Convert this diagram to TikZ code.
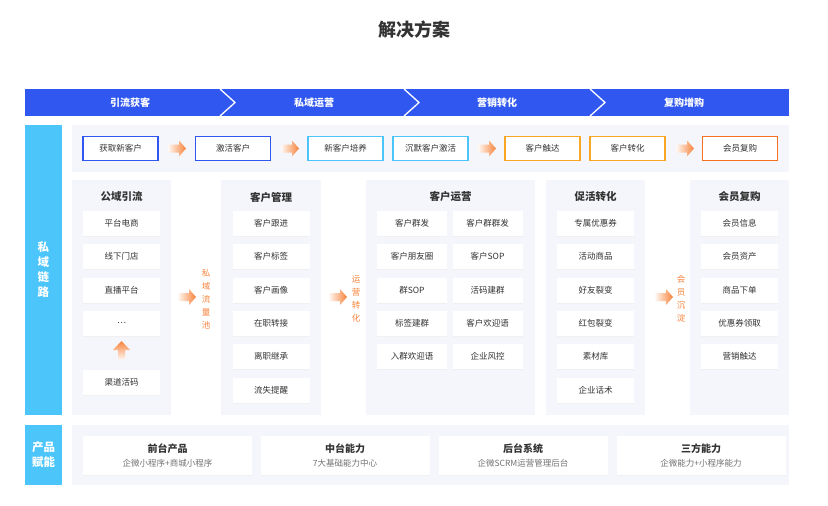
\documentclass[tikz,border=0pt]{standalone}
\usepackage{fontspec}
\setmainfont{Noto Sans CJK SC}
\usetikzlibrary{shadows}
\definecolor{bblue}{HTML}{3057F0}
\definecolor{lblue}{HTML}{4BC5FA}
\definecolor{panel}{HTML}{F4F6FB}
\definecolor{orgA}{HTML}{F8A623}
\definecolor{orgB}{HTML}{F5711F}
\definecolor{arr}{HTML}{F7833A}
\definecolor{txt}{HTML}{333333}
\tikzset{
  item/.style={fill=white,draw=none,minimum width=77pt,minimum height=25pt,inner sep=0pt,font=\fontsize{8.5}{10}\selectfont,text=txt,
     drop shadow={shadow xshift=0pt,shadow yshift=-1pt,fill=black!6,opacity=1}},
  hitem/.style={item,minimum width=70pt},
  topbox/.style={fill=white,line width=1.2pt,minimum width=75pt,minimum height=24pt,inner sep=0pt,font=\fontsize{8.5}{10}\selectfont,text=txt},
  head/.style={font=\fontsize{10.5}{12}\bfseries\selectfont,text=txt},
  side/.style={fill=lblue,draw=none,text=white,font=\fontsize{11.5}{15}\bfseries\selectfont,align=center},
  vlab/.style={text=arr,font=\fontsize{8.5}{13}\selectfont,align=center,inner sep=0pt},
  bitem/.style={fill=white,minimum width=169pt,minimum height=39pt,inner sep=0pt,drop shadow={shadow xshift=0pt,shadow yshift=-1pt,fill=black!6,opacity=1}},
}
\newcommand{\garrow}[2]{% right arrow at center
  \shade[left color=arr!5,right color=arr] ([xshift=-9pt,yshift=-4pt]#1,#2) -- ([xshift=2pt,yshift=-4pt]#1,#2) -- ([xshift=2pt,yshift=-8pt]#1,#2) -- ([xshift=9pt]#1,#2) -- ([xshift=2pt,yshift=8pt]#1,#2) -- ([xshift=2pt,yshift=4pt]#1,#2) -- ([xshift=-9pt,yshift=4pt]#1,#2) -- cycle;}
\begin{document}
\begin{tikzpicture}[x=1pt,y=-1pt]
\useasboundingbox[fill=white] (0,0) rectangle (828,506);
\node[font=\fontsize{18}{20}\bfseries\selectfont,text=txt] (title) at (414,30) {解决方案};
% banner
\fill[bblue] (25,89) rectangle (789,116);
\foreach \x in {220,404,590}{\draw[white,line width=1.3pt] (\x,89) -- (\x+15,102.5) -- (\x,116);}
\foreach \x/\t/\n in {130/引流获客/b1,314/私域运营/b2,497/营销转化/b3,684/复购增购/b4}
  \node[text=white,font=\fontsize{10}{12}\bfseries\selectfont] (\n) at (\x,102.5) {\t};
% side bars
\node[side,minimum width=37pt,minimum height=290pt,inner sep=0pt] (s1) at (43.5,270) {私\\域\\链\\路};
\node[side,minimum width=37pt,minimum height=60pt,inner sep=0pt] (s2) at (43.5,455) {产品\\赋能};
% top row
\fill[panel] (72,125) rectangle (789,172);
\node[topbox,draw=bblue] (t1) at (120.5,148.5) {获取新客户};
\node[topbox,draw=bblue] (t2) at (233,148.5) {激活客户};
\node[topbox,draw=lblue] (t3) at (345.5,148.5) {新客户培养};
\node[topbox,draw=lblue] (t4) at (430.5,148.5) {沉默客户激活};
\node[topbox,draw=orgA] (t5) at (542.5,148.5) {客户触达};
\node[topbox,draw=orgA] (t6) at (627.5,148.5) {客户转化};
\node[topbox,draw=orgB] (t7) at (740,148.5) {会员复购};
\garrow{177}{148.5}\garrow{290}{148.5}\garrow{487}{148.5}\garrow{685}{148.5}
% panels
\fill[panel] (72,180) rectangle (171,415);
\fill[panel] (221,180) rectangle (321,415);
\fill[panel] (366,180) rectangle (535,415);
\fill[panel] (546,180) rectangle (645,415);
\fill[panel] (690,180) rectangle (789,415);
\node[head] (h1) at (121.5,197) {公域引流};
\node[head] (h2) at (271,197) {客户管理};
\node[head] (h3) at (450.5,197) {客户运营};
\node[head] (h4) at (595.5,197) {促活转化};
\node[head] (h5) at (739.5,197) {会员复购};
% col1
\foreach \y/\t/\n in {223.5/平台电商/a1,256.5/线下门店/a2,290/直播平台/a3,382/渠道活码/a5}
  \node[item] (\n) at (121.5,\y) {\t};
\node[item] (a4) at (121.5,323.5) {\ldots};
\shade[bottom color=arr!10,top color=arr] (118,359) -- (118,350) -- (113,350) -- (121.5,341) -- (130,350) -- (125,350) -- (125,359) -- cycle;
% col2
\foreach \y/\t/\n in {223.5/客户跟进/c1,256.5/客户标签/c2,290/客户画像/c3,323.5/在职转接/c4,356.5/离职继承/c5,390/流失提醒/c6}
  \node[item] (\n) at (271,\y) {\t};
% col3
\foreach \y/\ta/\tb [count=\i] in {223.5/客户群发/客户群群发,256.5/客户朋友圈/客户SOP,290/群SOP/活码建群,323.5/标签建群/客户欢迎语,356.5/入群欢迎语/企业风控}{
  \node[hitem] (d\i a) at (412,\y) {\ta};
  \node[hitem] (d\i b) at (487.5,\y) {\tb};}
% col4
\foreach \y/\t/\n in {223.5/专属优惠券/e1,256.5/活动商品/e2,290/好友裂变/e3,323.5/红包裂变/e4,356.5/素材库/e5,390/企业话术/e6}
  \node[item] (\n) at (595.5,\y) {\t};
% col5
\foreach \y/\t/\n in {223.5/会员信息/f1,256.5/会员资产/f2,290/商品下单/f3,323.5/优惠券领取/f4,356.5/营销触达/f5}
  \node[item] (\n) at (739.5,\y) {\t};
% between arrows
\garrow{187}{297}\garrow{338}{297}\garrow{664}{297}
\node[vlab] (v1) at (206,299) {私\\域\\流\\量\\池};
\node[vlab] (v2) at (356,299) {运\\营\\转\\化};
\node[vlab] (v3) at (681,299) {会\\员\\沉\\淀};
% bottom
\fill[panel] (72,425) rectangle (789,485);
\foreach \x/\ta/\tb/\n in {167.5/前台产品/企微小程序+商城小程序/g1,345/中台能力/7大基础能力中心/g2,523/后台系统/企微SCRM运营管理后台/g3,701/三方能力/企微能力+小程序能力/g4}{
  \node[bitem] (\n) at (\x,455.5) {};
  \node[font=\fontsize{10}{12}\bfseries\selectfont,text=txt] (\n t) at (\x,448.5) {\ta};
  \node[font=\fontsize{8.5}{10}\selectfont,text=black!55] (\n s) at (\x,463.5) {\tb};}
\end{tikzpicture}
\end{document}
